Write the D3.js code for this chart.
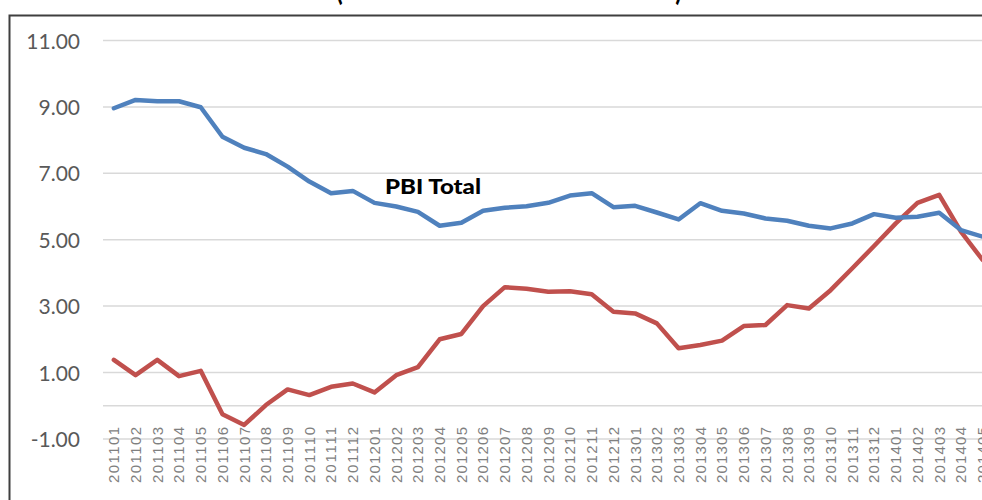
<!DOCTYPE html>
<html>
<head>
<meta charset="utf-8">
<script src="https://cdn.jsdelivr.net/npm/d3@7"></script>
<style>
  html, body { margin: 0; padding: 0; background: #fff; }
  svg { display: block; }
</style>
</head>
<body>
<svg id="chart" width="982" height="500"></svg>
<script>
const months = ["201101","201102","201103","201104","201105","201106","201107","201108","201109","201110","201111","201112",
  "201201","201202","201203","201204","201205","201206","201207","201208","201209","201210","201211","201212",
  "201301","201302","201303","201304","201305","201306","201307","201308","201309","201310","201311","201312",
  "201401","201402","201403","201404","201405"];

const pbiTotal = [8.96, 9.21, 9.17, 9.17, 8.99, 8.10, 7.77, 7.58, 7.20, 6.75, 6.40, 6.47,
  6.11, 6.00, 5.84, 5.42, 5.51, 5.87, 5.96, 6.01, 6.11, 6.33, 6.40, 5.98,
  6.02, 5.82, 5.61, 6.10, 5.87, 5.79, 5.64, 5.57, 5.42, 5.34, 5.49, 5.77,
  5.66, 5.69, 5.81, 5.29, 5.09];

const pbiOtro = [1.38, 0.92, 1.38, 0.89, 1.05, -0.26, -0.58, 0.02, 0.49, 0.32, 0.57, 0.67,
  0.40, 0.92, 1.16, 2.00, 2.16, 3.00, 3.57, 3.52, 3.43, 3.45, 3.36, 2.83,
  2.78, 2.48, 1.73, 1.83, 1.96, 2.40, 2.43, 3.03, 2.93, 3.48, 4.14, 4.81,
  5.49, 6.11, 6.35, 5.24, 4.39];

const yTicks = [-1, 1, 3, 5, 7, 9, 11];
const titleText = "(Variación % anual de 12 meses)";
const seriesLabel = "PBI Total";

const svg = d3.select("#chart");

// outer frame
svg.append("rect")
  .attr("x", 9.5).attr("y", 15.5)
  .attr("width", 1100).attr("height", 600)
  .attr("fill", "none").attr("stroke", "#3f3f3f").attr("stroke-width", 2);

// title (mostly cut off at top; only the parentheses' descenders show)
svg.append("text")
  .attr("x", 509).attr("y", 0)
  .attr("text-anchor", "middle")
  .attr("font-family", "Lato, 'Open Sans', sans-serif")
  .attr("font-weight", "bold")
  .attr("font-size", 32)
  .attr("textLength", 346)
  .attr("lengthAdjust", "spacingAndGlyphs")
  .attr("fill", "#000")
  .text(titleText);

const x = d3.scaleBand().domain(months).range([103, 993.5]).paddingInner(0).paddingOuter(0);
const y = d3.scaleLinear().domain([-1, 11]).range([438.9, 40.5]);

// gridlines
svg.append("g")
  .selectAll("line")
  .data(yTicks)
  .join("line")
  .attr("x1", 103).attr("x2", 1000)
  .attr("y1", d => y(d)).attr("y2", d => y(d))
  .attr("stroke", "#d9d9d9").attr("stroke-width", 1.5);

// horizontal axis line at 0
svg.append("line")
  .attr("x1", 103).attr("x2", 1000)
  .attr("y1", y(0)).attr("y2", y(0))
  .attr("stroke", "#d9d9d9").attr("stroke-width", 1.5);

// y axis labels
const fmt = d3.format(".2f");
const yAxis = d3.axisLeft(y).tickValues(yTicks)
  .tickFormat(d => fmt(d).replace("\u2212", "-"))
  .tickSize(0).tickPadding(0);
const gy = svg.append("g").attr("transform", "translate(80,0)").call(yAxis);
gy.select(".domain").remove();
gy.selectAll("text")
  .attr("font-family", "Lato, 'Open Sans', sans-serif")
  .attr("font-size", 21)
  .attr("fill", "#595959")
  .attr("dy", "0.36em");

// x axis labels
const xAxis = d3.axisBottom(x).tickSize(0).tickPadding(0);
const gx = svg.append("g").attr("transform", "translate(0,427)").call(xAxis);
gx.select(".domain").remove();
gx.selectAll("text")
  .attr("font-family", "'Liberation Sans', Arial, sans-serif")
  .attr("font-size", 15)
  .attr("fill", "#7f7f7f")
  .attr("transform", "rotate(-90)")
  .attr("x", 0).attr("y", 0)
  .attr("dy", "0.36em")
  .attr("text-anchor", "end")
  .attr("textLength", 56)
  .attr("lengthAdjust", "spacing");

const cx = d => x(d) + x.bandwidth() / 2;
const line = d3.line()
  .x((d, i) => cx(months[i]))
  .y(d => y(d));

svg.append("path")
  .datum(pbiOtro)
  .attr("d", line)
  .attr("fill", "none")
  .attr("stroke", "#C0504D")
  .attr("stroke-width", 4.5)
  .attr("stroke-linejoin", "round")
  .attr("stroke-linecap", "round");

svg.append("path")
  .datum(pbiTotal)
  .attr("d", line)
  .attr("fill", "none")
  .attr("stroke", "#4F81BD")
  .attr("stroke-width", 4.5)
  .attr("stroke-linejoin", "round")
  .attr("stroke-linecap", "round");

// series label
svg.append("text")
  .attr("x", 385).attr("y", 194)
  .attr("font-family", "Lato, 'Open Sans', sans-serif")
  .attr("font-weight", "900")
  .attr("font-size", 21)
  .attr("textLength", 96)
  .attr("lengthAdjust", "spacingAndGlyphs")
  .attr("fill", "#000")
  .text(seriesLabel);
</script>
</body>
</html>
